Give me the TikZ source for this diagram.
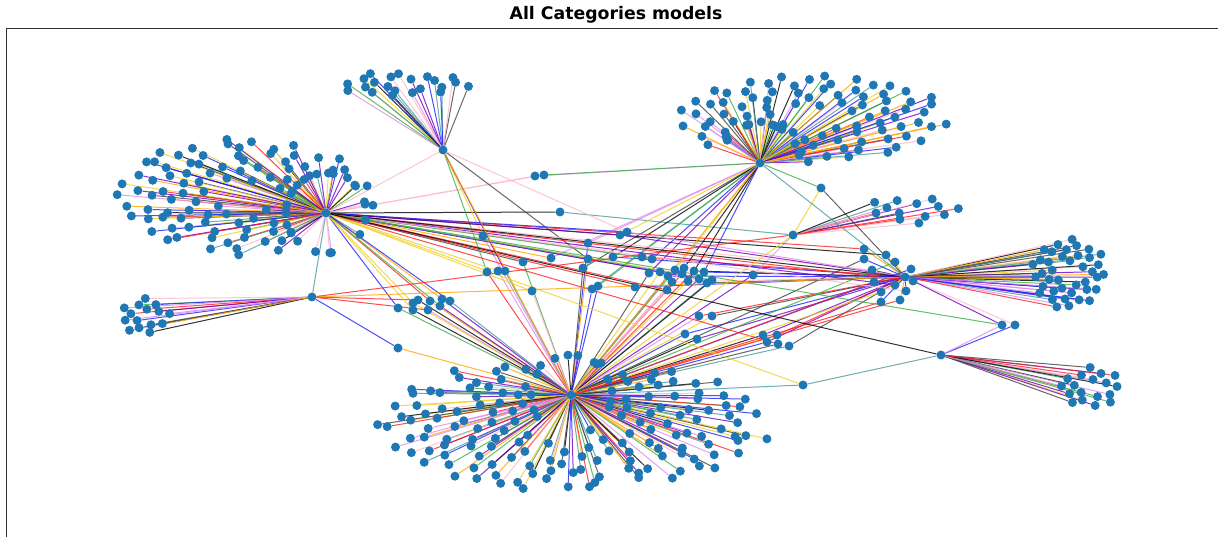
\documentclass[tikz,border=0pt]{standalone}
\usepackage{fontspec}
\newfontfamily\titlefont{DejaVu Sans}
\pgfdeclarelayer{edges}
\pgfsetlayers{edges,main}
\definecolor{dotblue}{HTML}{1F77B4}
\definecolor{ec0}{HTML}{000000}
\definecolor{ec1}{HTML}{FF2020}
\definecolor{ec2}{HTML}{2020FF}
\definecolor{ec3}{HTML}{3CB043}
\definecolor{ec4}{HTML}{FFA500}
\definecolor{ec5}{HTML}{E08AE8}
\definecolor{ec6}{HTML}{F0D020}
\definecolor{ec7}{HTML}{FFB6C8}
\definecolor{ec8}{HTML}{4A9A9A}
\definecolor{ec9}{HTML}{7000C0}
\definecolor{ec10}{HTML}{404040}
\tikzset{
  dot/.style={circle,fill=dotblue,inner sep=0pt,minimum size=9pt},
  link/.style={line width=1pt,opacity=0.8},
}
% hub, centre x, centre y, half width, half height, leaves, seed, inner radius
\newcommand\drawfan[8]{%
  \pgfmathsetseed{#7}
  \path (#1.center); \pgfgetlastxy{\hx}{\hy}
  \pgfmathsetmacro\hxx{\hx}
  \pgfmathsetmacro\hyy{-\hy}
  \foreach \i in {1,...,#6}{
    \pgfmathsetmacro\frc{0.381966*\i-floor(0.381966*\i)}
    \pgfmathsetmacro\ang{360*\frc+10*rnd}
    \pgfmathsetmacro\rad{sqrt(#8*#8+(1-#8*#8)*(\i-0.5)/#6)*(0.93+0.07*rnd)}
    \pgfmathsetmacro\px{#2+#4*\rad*cos(\ang)}
    \pgfmathsetmacro\py{#3+#5*\rad*sin(\ang)}
    \pgfmathsetmacro\ff{max(1,40/max(veclen(\px-\hxx,\py-\hyy),0.5))}
    \pgfmathsetmacro\qx{\hxx+(\px-\hxx)*\ff}
    \pgfmathsetmacro\qy{\hyy+(\py-\hyy)*\ff}
    \node[dot] (#1-\i) at (\qx,\qy) {};
  }
  \begin{pgfonlayer}{edges}
    \foreach \i in {1,...,#6}{
      \pgfmathrandominteger\col{0}{10}
      \draw[link,draw=ec\col] (#1) -- (#1-\i);
    }
  \end{pgfonlayer}%
}
\def\midlist{535/176/hB/hC, 544/175/hC/hB, 560/212/hB/hF,
  483/236/hD/hA, 588/243/hC/hA, 588/259/hA/hD, 583/268/hC/hA, 551/258/hB/hC,
  523/262/hB/hA, 613/257/hC/hG, 642/257/hB/hG, 652/259/hC/hB, 487/272/hD/hA,
  498/271/hB/hA, 505/271/hD/hA, 532/291/hB/hA, 592/289/hC/hA, 598/286/hC/hA,
  635/287/hB/hG, 649/273/hA/hC, 660/272/hA/hB, 668/276/hA/hG, 675/270/hC/hA,
  672/282/hA/hG, 682/274/hA/hB, 688/281/hC/hA, 694/271/hA/hG, 699/279/hA/hB,
  704/272/hC/hG, 707/283/hA/hG, 712/280/hB/hA, 684/268/hA/hC, 667/290/hA/hB,
  753/275/hA/hF, 699/316/hA/hG, 712/316/hA/hG, 685/334/hA/hG, 697/339/hA/hG,
  763/335/hA/hG, 777/335/hA/hG, 767/342/hA/hG, 778/344/hA/hB, 789/346/hA/hG,
  398/348/hE/hA, 398/308/hB/hA, 413/303/hB/hA, 418/300/hE/hA, 413/310/hB/hA,
  430/301/hB/hA, 428/310/hE/hA, 442/299/hB/hA, 440/306/hB/hA, 450/301/hB/hA,
  864/249/hG/hB, 864/259/hG/hA, 886/255/hG/hB, 895/262/hG/hA, 872/270/hG/hB,
  911/269/hG/hA, 913/281/hG/hB, 874/282/hG/hA, 895/285/hG/hB, 881/292/hG/hA,
  906/291/hG/hB, 881/302/hG/hA, 900/300/hG/hA, 1015/325/hH/hG}
\def\trilist{821/188/hC/hF/hG, 620/235/hC/hB/hG,
  627/232/hG/hB/hD, 1002/325/hH/hG/hB, 803/385/hA/hH/hB}
\begin{document}
\begin{tikzpicture}[x=1pt,y=-1pt]
\useasboundingbox (0,0) rectangle (1218,537);
\draw[line width=1pt,black!80] (6.5,537) -- (6.5,28.5) -- (1218,28.5);
\node (title) at (616,15) {\titlefont\bfseries\fontsize{17.3}{21}\selectfont All Categories models};

% hubs
\node[dot] (hA) at (571,395) {};
\node[dot] (hB) at (326,213) {};
\node[dot] (hC) at (760,163) {};
\node[dot] (hD) at (443,150) {};
\node[dot] (hE) at (312,297) {};
\node[dot] (hF) at (793,235) {};
\node[dot] (hG) at (905,277) {};
\node[dot] (hH) at (941,355) {};

% leaves
\drawfan{hA}{570}{425}{205}{68}{165}{11}{0.25}
\drawfan{hB}{243}{196}{135}{60}{110}{23}{0.25}
\drawfan{hC}{812}{118}{142}{46}{95}{37}{0.25}
\drawfan{hD}{405}{84}{68}{13}{22}{41}{0.3}
\drawfan{hE}{145}{317}{28}{19}{15}{53}{0.3}
\drawfan{hF}{912}{210}{48}{15}{13}{61}{0.3}
\drawfan{hG}{1068}{273}{40}{37}{40}{71}{0.3}
\drawfan{hH}{1090}{388}{32}{23}{18}{83}{0.3}

% nodes between hubs
\foreach \x/\y/\p/\q [count=\k] in \midlist
  \node[dot] (mid\k) at (\x,\y) {};
\foreach \x/\y/\p/\q/\r [count=\k] in \trilist
  \node[dot] (tri\k) at (\x,\y) {};

\begin{pgfonlayer}{edges}
\pgfmathsetseed{97}
\foreach \x/\y/\p/\q [count=\k] in \midlist{
  \pgfmathrandominteger\ca{0}{10}
  \pgfmathrandominteger\cb{0}{10}
  \draw[link,draw=ec\ca] (\p) -- (mid\k);
  \draw[link,draw=ec\cb] (\q) -- (mid\k);
}
\foreach \x/\y/\p/\q/\r [count=\k] in \trilist{
  \pgfmathrandominteger\ca{0}{10}
  \pgfmathrandominteger\cb{0}{10}
  \pgfmathrandominteger\cc{0}{10}
  \draw[link,draw=ec\ca] (\p) -- (tri\k);
  \draw[link,draw=ec\cb] (\q) -- (tri\k);
  \draw[link,draw=ec\cc] (\r) -- (tri\k);
}
% hub to hub
\foreach \p/\q/\c in {hA/hC/ec4, hB/hG/ec0, hB/hH/ec0, hB/hE/ec8, hB/hD/ec7,
  hE/hG/ec4, hE/hF/ec1, hA/hF/ec6, hD/hA/ec4, hC/hG/ec8}
  \draw[link,draw=\c] (\p) -- (\q);
\end{pgfonlayer}
\end{tikzpicture}
\end{document}
